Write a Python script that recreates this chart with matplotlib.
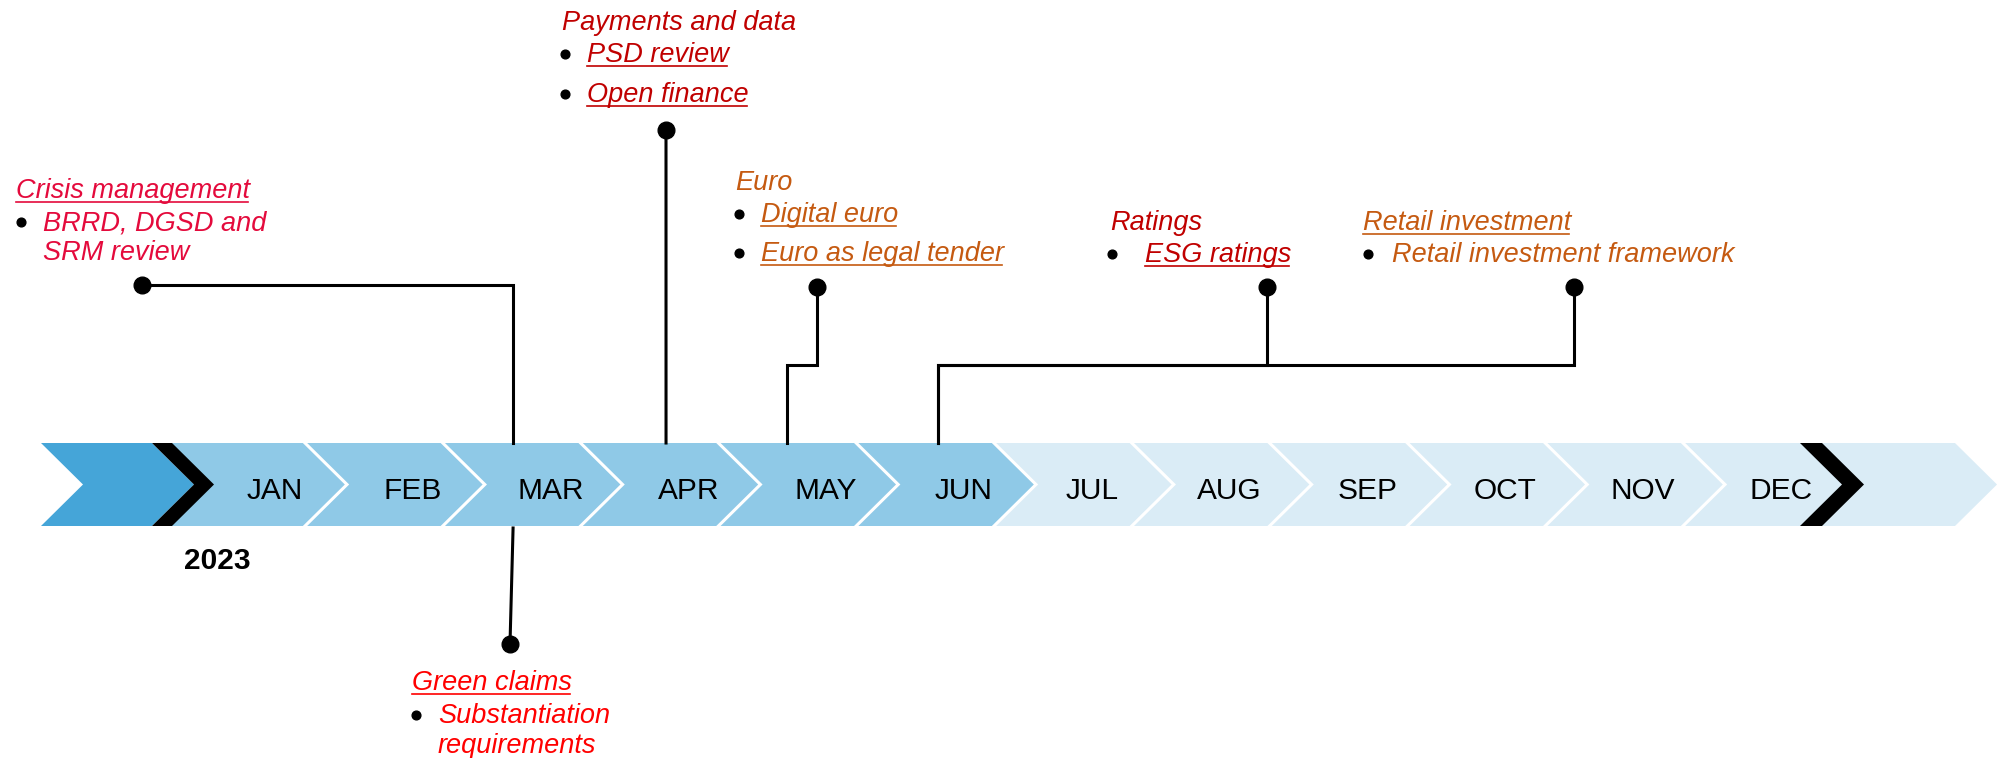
import matplotlib.pyplot as plt
from matplotlib.patches import Polygon

plt.rcParams['font.family'] = ['Liberation Sans', 'DejaVu Sans']

# timeline data
months = ['JAN', 'FEB', 'MAR', 'APR', 'MAY', 'JUN',
          'JUL', 'AUG', 'SEP', 'OCT', 'NOV', 'DEC']
months_done = 6          # first half of the year shaded darker
year_label = '2023'

event_titles = ['Crisis management', 'Green claims', 'Payments and data',
                'Euro', 'Ratings', 'Retail investment']
event_items = [['BRRD, DGSD and\nSRM review'],
               ['Substantiation\nrequirements'],
               ['PSD review', 'Open finance'],
               ['Digital euro', 'Euro as legal tender'],
               ['ESG ratings'],
               ['Retail investment framework']]
# position on the timeline, in months from the start of January
event_month = [2.51, 2.51, 3.62, 4.5, 5.59, 5.59]

# styles
title_underline = [True, True, False, False, False, True]
item_underline = [False, False, True, True, True, False]
event_colors = ['#E40A3C', '#FF0000', '#C00000', '#C55A11', '#C00000', '#C55A11']

c_start = '#45A5D8'
c_done = '#8FC9E7'
c_todo = '#DAECF6'

# layout (pixel coordinates, y going down)
W, H = 2002, 758
TOP, BOT = 443, 526
MID = (TOP + BOT) / 2
D = 42          # chevron depth
X0, STEP = 167.2, 137.8
FS = 19.5
LINE = 30

# (side, elbow_y, dot_x, dot_y)
connectors = [('up', 285, 142, 285),
              ('down', None, 510, 644),
              ('up', None, 666, 130),
              ('up', 365, 817, 287),
              ('up', 365, 1267, 287),
              ('up', 365, 1574, 287)]
# (title_x, title_baseline, bullet_x, text_x, first item baselines)
text_layout = [(16, 198, 21, 43, [230]),
               (412, 690, 416, 438, [723]),
               (562, 30, 565, 587, [62, 102]),
               (735, 190, 739, 761, [222, 261]),
               (1110, 230, 1112, 1145, [262]),
               (1363, 230, 1368, 1392, [262])]


def mx(p):
    return X0 + STEP * p


def chevron(l, r, color, z=1):
    pts = [(l, TOP), (r, TOP), (r + D, MID), (r, BOT), (l, BOT), (l + D, MID)]
    ax.add_patch(Polygon(pts, closed=True, facecolor=color, edgecolor='none', zorder=z))


fig = plt.figure(figsize=(W / 100, H / 100), dpi=100)
ax = fig.add_axes([0, 0, 1, 1])
ax.set_xlim(0, W)
ax.set_ylim(H, 0)
ax.axis('off')

# strip
chevron(41, 152, c_start)
for k, m in enumerate(months):
    chevron(mx(k), mx(k + 1), c_done if k < months_done else c_todo)
    off = 30 if k < months_done else 40
    ax.text(mx(k + 1) - off, 499, m, ha='center', va='baseline', fontsize=21.5, zorder=5)
chevron(mx(12), 1955, c_todo)
for k in range(1, 12):
    r = mx(k)
    ax.plot([r, r + D, r], [TOP, MID, BOT], color='white', lw=2.2, zorder=2,
            solid_joinstyle='miter')
chevron(152, 172, 'black', z=3)
chevron(1800, 1822, 'black', z=3)

ax.text(217.5, 569, year_label, ha='center', va='baseline', fontsize=21.5,
        fontweight='bold')

# connectors
for p, (side, ey, dx, dy) in zip(event_month, connectors):
    x = mx(p)
    y0 = TOP if side == 'up' else BOT + 2
    if ey is None:
        xs, ys = [x, dx], [y0, dy]
    else:
        xs, ys = [x, x, dx, dx], [y0, ey, ey, dy]
    ax.plot(xs, ys, color='black', lw=2.2, solid_joinstyle='miter', zorder=4)
    ax.plot(dx, dy, 'o', color='black', ms=12, zorder=4)

# labels
to_underline = []
for title, items, col, tu, iu, lay in zip(event_titles, event_items, event_colors,
                                           title_underline, item_underline, text_layout):
    tx, ty, bx, ix, iys = lay
    t = ax.text(tx, ty, title, color=col, fontsize=FS, style='italic', va='baseline')
    if tu:
        to_underline.append((t, ty, col))
    for item, iy in zip(items, iys):
        ax.plot(bx, iy - 8.5, 'o', color='black', ms=6.3)
        for j, line in enumerate(item.split('\n')):
            t = ax.text(ix, iy + j * LINE, line, color=col, fontsize=FS,
                        style='italic', va='baseline')
            if iu:
                to_underline.append((t, iy + j * LINE, col))

fig.canvas.draw()
r = fig.canvas.get_renderer()
for t, y, col in to_underline:
    bb = t.get_window_extent(r)
    ax.plot([bb.x0, bb.x1 - 2], [y + 4, y + 4], color=col, lw=1.2)

fig.savefig('out.png', dpi=100)
